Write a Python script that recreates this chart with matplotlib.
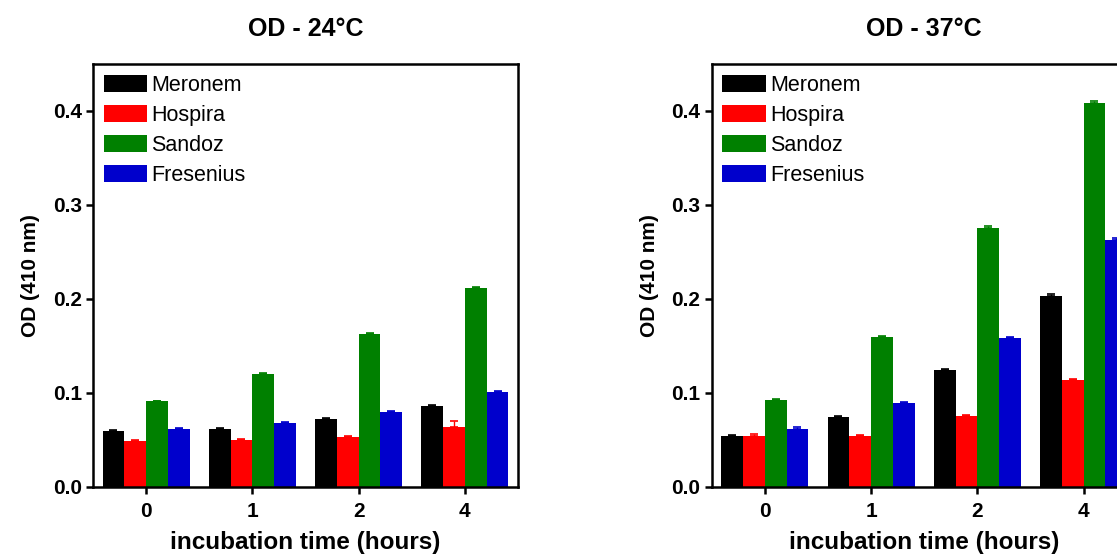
import matplotlib
matplotlib.use("Agg")
import matplotlib.pyplot as plt
import numpy as np

plt.rcParams['font.family'] = ['Liberation Sans', 'DejaVu Sans']

times = ["0", "1", "2", "4"]
series = ["Meronem", "Hospira", "Sandoz", "Fresenius"]
colors = ["#000000", "#ff0000", "#008000", "#0000cc"]

# OD values at 24°C
od24_meronem = [0.060, 0.062, 0.072, 0.086]
od24_hospira = [0.049, 0.050, 0.053, 0.064]
od24_sandoz = [0.091, 0.120, 0.163, 0.212]
od24_fresenius = [0.062, 0.068, 0.080, 0.101]
err24_meronem = [0.001, 0.001, 0.001, 0.001]
err24_hospira = [0.001, 0.001, 0.001, 0.006]
err24_sandoz = [0.001, 0.001, 0.001, 0.001]
err24_fresenius = [0.001, 0.001, 0.001, 0.001]

# OD values at 37°C
od37_meronem = [0.054, 0.075, 0.125, 0.203]
od37_hospira = [0.054, 0.054, 0.076, 0.114]
od37_sandoz = [0.093, 0.160, 0.276, 0.409]
od37_fresenius = [0.062, 0.089, 0.159, 0.263]
err37_meronem = [0.001, 0.001, 0.001, 0.002]
err37_hospira = [0.002, 0.001, 0.001, 0.001]
err37_sandoz = [0.001, 0.001, 0.002, 0.002]
err37_fresenius = [0.002, 0.001, 0.001, 0.002]

panels = [
    ("OD - 24°C", [od24_meronem, od24_hospira, od24_sandoz, od24_fresenius],
     [err24_meronem, err24_hospira, err24_sandoz, err24_fresenius]),
    ("OD - 37°C", [od37_meronem, od37_hospira, od37_sandoz, od37_fresenius],
     [err37_meronem, err37_hospira, err37_sandoz, err37_fresenius]),
]

fig = plt.figure(figsize=(11.17, 5.6), dpi=100)
lefts = [93 / 1117, 711.7 / 1117]
W = 425 / 1117
B = 1 - 487 / 560
H = (487 - 64) / 560

bw = 0.205
x = np.arange(len(times))
for (title, vals, errs), l in zip(panels, lefts):
    ax = fig.add_axes([l, B, W, H])
    for i, (v, e, c, name) in enumerate(zip(vals, errs, colors, series)):
        pos = x + (i - 1.5) * bw
        ax.bar(pos, v, width=bw, color=c, label=name, zorder=2)
        ax.errorbar(pos, v, yerr=[np.zeros(len(e)), e], fmt='none', ecolor=c,
                    elinewidth=1.0, capsize=3, capthick=1.2, zorder=1)
    ax.set_xlim(-0.5, 3.5)
    ax.set_ylim(0, 0.45)
    ax.set_yticks([0.0, 0.1, 0.2, 0.3, 0.4])
    ax.set_yticklabels(["0.0", "0.1", "0.2", "0.3", "0.4"])
    ax.set_xticks(x)
    ax.set_xticklabels(times)
    for s in ax.spines.values():
        s.set_linewidth(1.8)
    ax.tick_params(axis='both', direction='out', length=5, width=1.8,
                   labelsize=15, pad=3)
    ax.tick_params(axis='x', pad=6)
    for lab in ax.get_xticklabels() + ax.get_yticklabels():
        lab.set_fontweight('bold')
    ax.set_title(title, fontsize=18, fontweight='bold', pad=20)
    ax.set_ylabel("OD (410 nm)", fontsize=15, fontweight='bold', labelpad=9)
    ax.set_xlabel("incubation time (hours)", fontsize=17.5, fontweight='bold', labelpad=7)
    ax.legend(loc='upper left', frameon=False, fontsize=15.5, borderaxespad=0.15,
              borderpad=0.35, labelspacing=0.42, handlelength=2.0,
              handleheight=0.8, handletextpad=0.22)

fig.savefig("out.png", dpi=100)
